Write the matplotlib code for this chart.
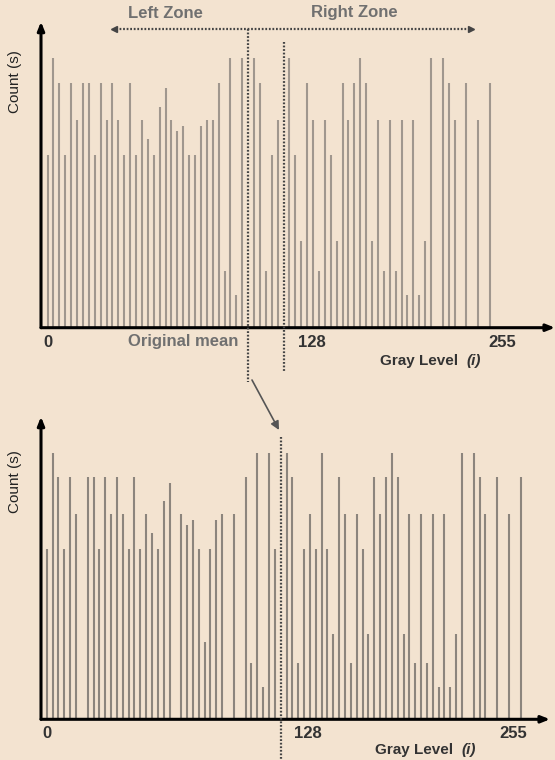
import matplotlib
matplotlib.use("Agg")
import matplotlib.pyplot as plt
import numpy as np
from matplotlib.lines import Line2D
from matplotlib.transforms import blended_transform_factory

plt.rcParams['font.family'] = ['Liberation Sans', 'DejaVu Sans']

# ---- data (count per gray-level bin; None = empty bin) ----
top_counts = [64, 100, 91, 64, 91, 77, 91, 91, 64, 91, 77, 91, 77, 64, 91, 64, 77, 70, 64, 82,
              89, 77, 73, 75, 64, 64, 75, 77, 77, 91, 21, 100, 12, 100, None, 100, 91, 21, 64, 77,
              None, 100, 64, 32, 91, 77, 21, 77, 64, 32, 91, 77, 91, 100, 91, 32, 77, 21, 77, 21,
              77, 12, 77, 12, 32, 100, None, 100, 91, 77, None, 91, None, 77, None, 91]
bottom_counts = [64, 100, 91, 64, 91, 77, None, 91, 91, 64, 91, 77, 91, 77, 64, 91, 64, 77, 70, 64,
                 82, 89, None, 77, 73, 75, 64, 29, 64, 75, 77, None, 77, None, 91, 21, 100, 12, 100, 64,
                 None, 100, 91, 21, 64, 77, 64, 100, 64, 32, 91, 77, 21, 77, 64, 32, 91, 77, 91, 100,
                 91, 32, 77, 21, 77, 21, 77, 12, 77, 12, 32, 100, None, 100, 91, 77, None, 91, None, 77,
                 None, 91]
tick_labels = ['0', '128', '255']
top_tick_pos = [0, 44.8, 77.0]
bottom_tick_pos = [0, 44.7, 79.7]
top_mean_bins = [34, 40]      # original mean / zone split
bottom_mean_bin = 40

BG = '#F3E3D0'
W, H = 555, 760

def fx(x):
    return x / W

def fy(y):
    return 1 - y / H

fig = plt.figure(figsize=(W / 100, H / 100), dpi=100)
fig.patch.set_facecolor(BG)

def make_axes(left, base, right, top, x0, dx, hmax, counts, ticks, color):
    ax = fig.add_axes([fx(left), fy(base), (right - left) / W, (base - top) / H])
    ax.set_facecolor('none')
    ax.set_xlim(-(x0 - left) / dx, (right - x0) / dx)
    ax.set_ylim(0, (base - top) / hmax * 100)
    xs = [i for i, c in enumerate(counts) if c is not None]
    ys = [c for c in counts if c is not None]
    ax.vlines(xs, 0, ys, colors=color, linewidth=1.5)
    for s in ax.spines.values():
        s.set_visible(False)
    ax.set_yticks([])
    ax.set_xticks(ticks)
    ax.set_xticklabels(tick_labels, fontsize=12, fontweight='bold', color='#333333')
    ax.tick_params(axis='x', length=0, pad=5)
    ax.annotate('', xy=(1, 0), xytext=(0, 0), xycoords='axes fraction',
                arrowprops=dict(arrowstyle='-|>,head_length=0.5,head_width=0.2', lw=2.2,
                                color='black', shrinkA=0, shrinkB=0))
    ax.annotate('', xy=(0, 1), xytext=(0, 0), xycoords='axes fraction',
                arrowprops=dict(arrowstyle='-|>,head_length=0.5,head_width=0.2', lw=2.2,
                                color='black', shrinkA=0, shrinkB=0))
    return ax

ax1 = make_axes(41, 327.7, 555, 21.7, 47.5, 5.9, 269.4, top_counts, top_tick_pos, '#A0978E')
ax2 = make_axes(41, 719.3, 550, 416.7, 46.7, 5.85, 266.0, bottom_counts, bottom_tick_pos, '#8C857D')

# dotted vertical lines
dot = dict(color='#444444', linewidth=1.6, linestyle=(0, (0.8, 0.8)))
tr1 = blended_transform_factory(ax1.transData, fig.transFigure)
tr2 = blended_transform_factory(ax2.transData, fig.transFigure)
fig.add_artist(Line2D([top_mean_bins[0]] * 2, [fy(29), fy(382)], transform=tr1, **dot))
fig.add_artist(Line2D([top_mean_bins[1]] * 2, [fy(42), fy(372)], transform=tr1, **dot))
fig.add_artist(Line2D([bottom_mean_bin] * 2, [fy(437), fy(760)], transform=tr2, **dot))

# horizontal zone arrow
fig.add_artist(Line2D([fx(116), fx(469)], [fy(29), fy(29)], transform=fig.transFigure, **dot))
fig.add_artist(Line2D([fx(114)], [fy(29)], transform=fig.transFigure, marker='<',
                      markersize=5, color='#444444', linestyle='none'))
fig.add_artist(Line2D([fx(471)], [fy(29)], transform=fig.transFigure, marker='>',
                      markersize=5, color='#444444', linestyle='none'))

# arrow between panels
fig.add_artist(matplotlib.patches.FancyArrowPatch(
    (fx(252), fy(380)), (fx(279), fy(430)), transform=fig.transFigure,
    arrowstyle='-|>,head_length=5,head_width=2.5', color='#555555', lw=1.2,
    shrinkA=0, shrinkB=0))

gray = '#707070'
fig.text(fx(165), fy(13), 'Left Zone', fontsize=12, fontweight='bold', color=gray,
         ha='center', va='center')
fig.text(fx(354), fy(13), 'Right Zone', fontsize=12, fontweight='bold', color=gray,
         ha='center', va='center')
fig.text(fx(183), fy(342), 'Original mean', fontsize=12, fontweight='bold', color=gray,
         ha='center', va='center')

for yc in (82, 482):
    fig.text(fx(15), fy(yc), 'Count (s)', fontsize=11, color='#222222', rotation=90,
             ha='center', va='center')

for xl, xi, yc in ((380, 466, 361), (375, 461, 750)):
    fig.text(fx(xl), fy(yc), 'Gray Level', fontsize=11, fontweight='bold', color='#333333',
             ha='left', va='center')
    fig.text(fx(xi), fy(yc), '(i)', fontsize=11, fontweight='bold', style='italic',
             color='#333333', ha='left', va='center')

fig.savefig('out.png', dpi=100, facecolor=BG)
